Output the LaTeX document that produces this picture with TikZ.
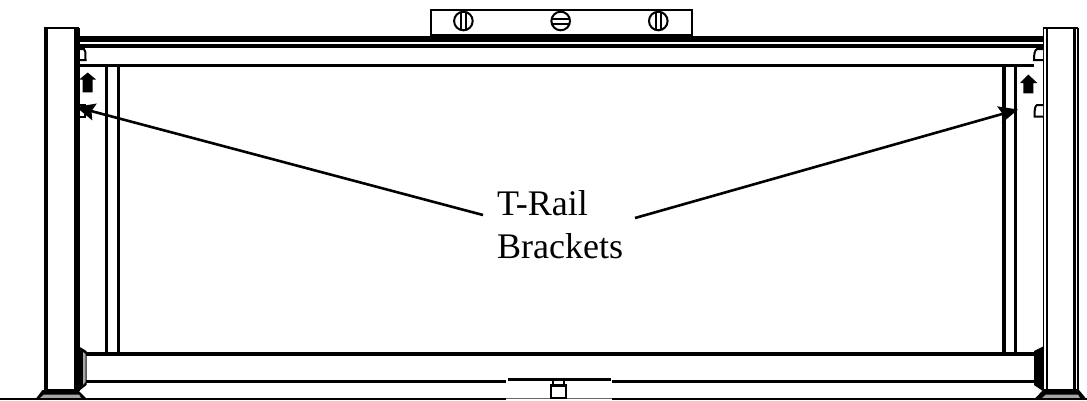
\documentclass[tikz,border=0pt]{standalone}
\usepackage{fontspec}
\setmainfont{Liberation Serif}
\usetikzlibrary{arrows.meta}
\tikzset{
  px/.style={x=1pt,y=-1pt},
  thick line/.style={line width=3.5pt,line cap=butt},
  thin line/.style={line width=1.5pt},
  post/.style={line width=4.4pt},
  bracket/.style={draw,line width=2pt,fill=white},
  screw/.style={line width=2pt},
  pointer/.style={line width=2.6pt,-{Stealth[length=19pt,width=17pt,inset=3pt]}},
  blk/.style={fill=black,draw=none},
  label/.style={align=left,inner sep=0pt,font=\fontsize{36}{43}\selectfont,anchor=north west},
}
\begin{document}
\begin{tikzpicture}[px]
\useasboundingbox (0,0) rectangle (1087,400);
% rails
\fill[black] (78,36) rectangle (1044,41.7);
\draw[thick line] (78,46) -- (1044,46);
\draw[thick line] (78,65.3) -- (1034,65.3);
\draw[thick line] (84,354) -- (1035,354);
\draw[thick line] (84,381.7) -- (1035,381.7);
% stiles
\foreach \sx in {106.6,118.3,1003.8,1015.6}
  \draw[line width=3.6pt] (\sx,65.3) -- (\sx,354);
% left post
\draw[post] (45.7,400) -- (45.7,28);
\draw[thin line] (44,28) -- (79,28);
\draw[line width=6pt] (77,28) -- (77,391);
\draw[thin line] (47,390) -- (78,390);
% right post
\draw[thin line] (1043,28) -- (1078,28);
\draw[thin line] (1043.3,28) -- (1043.3,392);
\draw[line width=2.4pt] (1047,28) -- (1047,392);
\draw[line width=3pt] (1074.3,28) -- (1074.3,392);
\draw[thin line] (1078,28) -- (1078,392);
\draw[thin line] (1043,390) -- (1078,390);
% top brackets
\draw[bracket] (80,49) -- (84,49) .. controls (85.5,50) and (85.5,52) .. (85.5,60) -- (80,60);
\draw[bracket] (1043,49) -- (1037,49) .. controls (1035,50) and (1034,53) .. (1034,60) -- (1043,60);
\draw[bracket] (1043,105) -- (1037,105) .. controls (1035,106) and (1034.5,109) .. (1034.5,116.5) -- (1043,116.5);
\draw[bracket] (80,105) -- (85,105) -- (85,116.5) -- (80,116.5);
% bottom wedge brackets
\fill[black] (79,346.5) -- (86.5,351) -- (86.5,385) -- (79,391) -- cycle;
\fill[gray!70] (83,352) -- (85.5,354) -- (85.5,382) -- (83,385) -- cycle;
\fill[black] (1043,346.5) -- (1034,351) -- (1034,385) -- (1043,391) -- cycle;
% feet
\fill[black] (42.5,390) -- (78,390) -- (86.5,398.5) -- (36,398.5) -- cycle;
\fill[gray!70] (44,394.5) -- (79,394.5) -- (81,398) -- (40,398) -- cycle;
\fill[black] (1043,390) -- (1079,390) -- (1086,398.5) -- (1035,398.5) -- cycle;
\fill[gray!70] (1046,394.5) -- (1078,394.5) -- (1080,398) -- (1042,398) -- cycle;
% floor
\draw[line width=2pt] (0,399.2) -- (506,399.2);
\draw[line width=2pt] (612,399.2) -- (1087,399.2);
\draw[line width=1pt,black!60] (506,398.5) -- (612,398.5);
% bottom centre plate
\fill[white] (506,378) rectangle (612,398);
\draw[line width=2.8pt] (508,379.5) -- (611,379.5);
\draw[line width=2.4pt] (552.8,380) -- (552.8,385.5);
\draw[line width=2.4pt] (564,380) -- (564,385.5);
\draw[line width=2.2pt] (551,385.5) rectangle (566,398);
% spirit level
\node[draw,line width=1.8pt,minimum width=261pt,minimum height=25pt,inner sep=0pt,anchor=north west] (level) at (430,9) {};
\foreach \nm/\cx in {a/463.4,c/658.3}{
  \draw[screw] (\cx,21) circle (9.3pt);
  \draw[screw] (\cx-2.6,12) -- (\cx-2.6,30);
  \draw[screw] (\cx+2.6,12) -- (\cx+2.6,30);
}
\draw[screw] (560.7,21) circle (9.3pt);
\draw[screw] (551.5,18.5) -- (570,18.5);
\draw[screw] (551.5,23.5) -- (570,23.5);
% up arrows
\fill[black] (87.7,72.5) -- (96,79.5) -- (92.7,79.5) -- (92.7,92.3) -- (82.7,92.3) -- (82.7,79.5) -- (79.3,79.5) -- cycle;
\fill[black] (1028.3,74.5) -- (1037.3,83) -- (1033.3,83) -- (1033.3,93.3) -- (1023.3,93.3) -- (1023.3,83) -- (1020,83) -- cycle;
% label and pointers
\node[label] (lbl) at (497,190) {T-Rail\\Brackets};
\coordinate (tl) at (483,215);
\coordinate (tr) at (635,218);
\coordinate (bl) at (76,107);
\coordinate (br) at (1018,109.5);
\draw[pointer] (tl) -- (bl);
\draw[pointer] (tr) -- (br);
\end{tikzpicture}
\end{document}
